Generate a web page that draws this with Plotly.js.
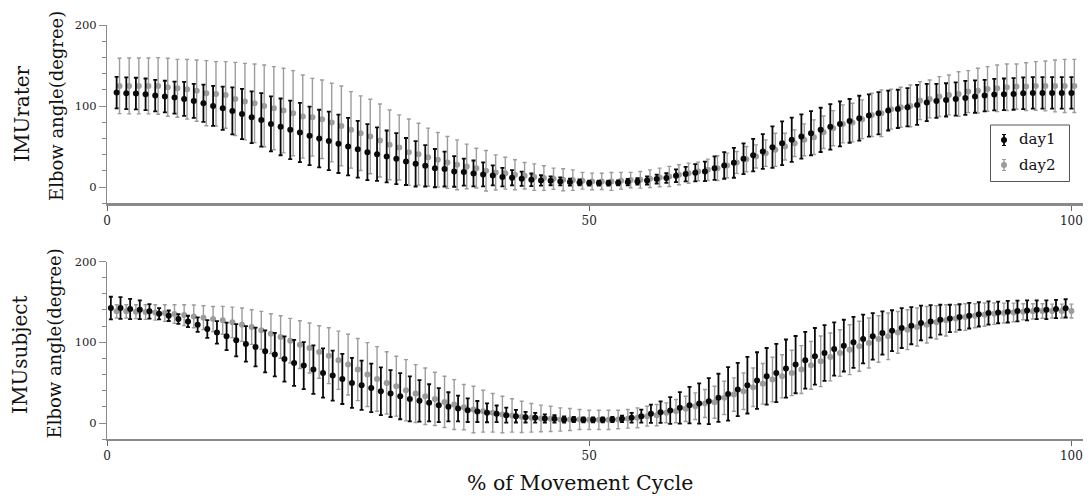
<!DOCTYPE html>
<html>
<head>
<meta charset="utf-8">
<script src="https://cdn.plot.ly/plotly-3.0.1.min.js"></script>
<style>
  html, body { margin: 0; padding: 0; background: #fff; }
  #chart { width: 1089px; height: 498px; }
</style>
</head>
<body>
<div id="chart"></div>
<script>
// Percent of the movement cycle (1..100)
const cycle = Array.from({length: 100}, (_, k) => k + 1);

// IMU rater: mean elbow angle and SD per cycle point
const raterDay1Mean = [
  116.6,115.8,115.4,114.5,112.9,111.7,110.4,108.8,106.3,103.4,
  100.2,97.3,94.0,90.3,86.2,82.9,78.0,74.3,70.6,67.3,
  63.2,59.9,57.0,53.4,50.0,46.8,43.1,40.6,37.8,35.1,
  31.6,28.7,26.3,23.4,22.2,19.3,18.5,16.8,15.6,14.4,
  12.3,11.5,10.3,9.0,8.2,7.8,7.0,6.2,5.7,4.9,
  4.9,4.9,5.3,6.2,7.0,8.2,9.9,11.1,14.0,16.0,
  17.7,19.3,23.4,26.7,30.0,34.9,39.4,43.9,49.3,54.2,
  58.3,62.4,66.5,70.6,74.3,78.0,81.7,85.0,88.3,91.1,
  94.4,96.5,98.5,101.4,104.3,106.3,107.6,108.8,110.0,111.7,
  112.9,114.1,114.5,114.9,115.8,116.2,116.2,116.2,116.2,116.2
];
const raterDay1Sd = [
  19.5,19.5,19.5,19.5,19.5,19.5,19.8,21.0,21.0,23.0,
  24.6,26.7,29.0,31.0,32.0,33.0,34.0,35.0,36.0,36.5,
  36.0,35.5,36.0,36.0,35.5,35.0,34.5,33.0,32.0,31.4,
  29.0,28.0,25.6,23.6,21.5,18.9,16.6,16.0,14.8,12.3,
  11.3,9.4,8.8,7.8,6.4,5.5,5.0,4.3,3.7,3.0,
  3.0,3.0,3.0,4.0,4.0,5.0,5.5,6.0,7.8,9.0,
  10.7,12.0,14.4,16.4,18.5,19.0,20.0,21.5,25.5,27.0,
  27.3,27.3,27.3,27.3,28.0,27.7,27.0,27.7,26.0,26.0,
  24.6,23.6,23.6,24.6,23.0,21.0,20.5,20.5,21.0,20.0,
  19.5,19.5,19.5,19.5,19.5,19.5,19.5,19.5,19.5,19.5
];
const raterDay2Mean = [
  124.8,124.8,124.8,124.8,124.8,123.2,121.9,120.7,119.0,115.8,
  115.0,113.7,108.8,105.5,103.4,100.2,97.3,94.4,91.1,87.0,
  86.2,83.7,79.6,75.5,70.6,66.5,62.4,57.5,52.1,48.9,
  43.1,40.6,36.9,33.7,30.4,27.5,25.5,23.4,20.1,18.1,
  17.2,15.2,14.0,12.3,11.1,10.3,9.0,8.6,7.8,7.0,
  7.0,7.0,7.8,8.6,9.0,10.3,11.9,13.1,15.2,17.2,
  19.3,21.3,23.4,26.7,30.4,34.5,37.8,41.9,46.0,50.0,
  54.2,58.3,61.6,67.7,72.7,78.0,79.6,83.7,89.1,91.1,
  96.1,98.5,100.2,106.7,108.8,111.7,113.7,114.9,117.8,119.0,
  121.1,121.9,123.2,124.0,124.0,124.8,124.8,124.8,124.8,124.8
];
const raterDay2Sd = [
  34.1,34.5,34.5,34.5,35.0,35.7,35.7,36.9,37.8,40.2,
  39.8,41.1,45.1,47.2,48.5,50.5,51.3,52.2,52.6,51.3,
  48.0,48.5,48.5,49.3,47.2,46.0,46.0,45.0,43.0,40.2,
  41.0,38.2,35.8,33.6,32.0,30.8,27.5,24.6,25.0,21.7,
  19.7,18.5,16.4,16.4,15.2,13.1,13.6,12.7,10.3,10.2,
  10.0,11.0,10.3,9.5,10.3,11.0,11.5,12.4,12.3,12.4,
  11.5,13.2,15.2,15.2,13.5,15.5,14.3,16.4,20.5,16.5,
  16.4,19.7,21.3,20.1,21.7,23.4,23.8,23.9,26.7,28.8,
  24.6,24.7,25.8,23.4,23.4,24.6,24.6,27.5,25.9,27.6,
  27.6,28.8,28.7,27.9,29.5,30.0,30.8,32.0,32.8,32.8
];

// IMU subject: mean elbow angle and SD per cycle point
const subjectDay1Mean = [
  142.4,142.4,141.2,140.3,138.3,135.4,132.9,128.8,125.9,121.8,
  116.5,112.3,107.4,102.5,98.0,94.2,88.9,84.8,79.4,74.5,
  71.2,66.3,62.1,58.8,54.7,49.8,46.9,43.6,39.5,36.6,
  33.3,30.0,27.6,25.1,22.2,20.2,18.1,16.0,14.4,12.8,
  11.5,9.9,8.6,7.4,6.6,5.8,5.3,4.5,4.5,4.1,
  4.1,4.1,4.5,5.3,6.6,8.6,11.5,13.6,15.6,18.9,
  22.2,24.3,27.2,31.3,36.2,41.6,46.9,52.7,58.0,62.1,
  67.5,72.4,77.8,82.7,86.8,91.8,95.9,100.0,104.1,107.4,
  111.5,114.4,117.7,120.6,123.9,125.9,128.0,129.6,131.3,132.9,
  134.6,136.2,137.0,137.9,138.7,139.5,140.3,140.3,141.2,142.0
];
const subjectDay1Sd = [
  14.0,13.5,12.5,11.5,9.0,7.0,6.5,6.0,7.0,9.0,
  11.0,14.0,17.0,20.0,22.0,24.0,26.0,27.0,28.0,28.5,
  29.0,30.0,30.5,31.0,31.0,31.0,30.5,30.0,29.5,29.0,
  28.5,27.8,25.7,23.0,21.0,18.0,16.0,14.6,13.0,11.7,
  10.3,9.3,7.8,6.6,6.0,5.0,4.7,3.7,3.3,3.0,
  3.0,3.0,3.3,4.0,6.0,8.0,11.3,13.4,16.5,19.5,
  22.6,25.0,28.4,29.8,33.0,33.0,35.0,35.0,35.0,36.0,
  36.0,35.4,35.0,35.0,34.4,33.0,32.0,31.5,30.2,28.8,
  26.7,25.3,24.7,23.0,21.6,20.2,18.5,16.9,15.8,15.8,
  15.0,14.4,13.4,13.4,12.8,12.3,11.7,11.7,11.3,11.3
];
const subjectDay2Mean = [
  138.3,138.3,137.9,137.4,137.0,136.2,135.0,133.7,132.1,130.5,
  128.8,127.2,124.7,121.8,118.9,114.8,110.7,106.6,102.0,97.1,
  93.0,88.0,83.5,77.8,72.4,66.3,60.1,54.7,49.8,45.7,
  40.7,36.6,33.3,30.0,26.3,23.0,19.8,16.9,14.8,12.8,
  10.7,9.5,7.8,6.6,5.8,5.3,4.5,4.5,4.5,4.1,
  4.1,4.1,4.5,5.3,6.6,8.6,9.9,12.8,14.8,17.7,
  21.0,24.3,25.9,31.3,35.4,39.5,44.4,48.6,53.9,58.0,
  62.1,66.3,71.6,76.5,81.9,86.8,90.9,95.1,99.2,104.1,
  107.4,112.3,115.6,118.9,121.8,124.7,127.2,129.6,131.3,132.9,
  134.2,135.4,136.2,137.0,137.9,138.3,138.7,138.7,138.7,138.7
];
const subjectDay2Sd = [
  8.2,8.2,8.6,9.0,9.5,10.3,11.5,12.8,14.0,14.8,
  15.6,17.3,18.9,20.6,21.4,23.5,24.7,26.3,27.6,29.5,
  30.9,32.5,34.6,36.0,37.5,38.5,39.5,40.0,38.5,37.0,
  37.9,35.8,35.0,32.9,31.7,30.9,28.0,28.8,25.9,23.9,
  22.6,20.6,19.3,17.7,16.5,15.6,14.4,13.6,12.3,11.9,
  11.9,11.9,11.5,11.5,12.3,12.3,13.2,12.3,14.4,15.6,
  16.5,17.3,19.8,20.6,20.6,22.6,23.9,25.1,27.6,26.7,
  28.0,29.6,29.6,31.3,29.6,28.8,30.9,30.9,30.9,28.8,
  28.8,25.9,24.7,23.5,22.6,20.6,19.3,16.9,16.5,14.8,
  14.4,13.2,12.3,11.5,9.9,9.5,9.0,8.6,8.6,8.6
];

const xTicks = [0, 50, 100];
const yTicks = [0, 100, 200];

const W = 1089, H = 498;
const px = v => v / W;          // pixel -> paper x
const py = v => 1 - v / H;      // pixel -> paper y

const SERIF = 'DejaVu Serif, Liberation Serif, serif';
const BLACK = '#0a0a0a';
const GRAY = '#9c9c9c';
const AXIS = '#8a8a8a';

function shifted(xs, d) { return xs.map(v => v + d); }

function series(x, y, sd, color, barWidth, xa, ya) {
  return {
    type: 'scatter', mode: 'markers',
    x: x, y: y, xaxis: xa, yaxis: ya,
    marker: {color: color, size: 6},
    error_y: {type: 'data', array: sd, visible: true, color: color,
              thickness: barWidth, width: 2},
    hoverinfo: 'skip', showlegend: false
  };
}

const traces = [
  series(shifted(cycle, 0.3), raterDay2Mean, raterDay2Sd, GRAY, 1.4, 'x', 'y'),
  series(cycle, raterDay1Mean, raterDay1Sd, BLACK, 1.8, 'x', 'y'),
  series(cycle, subjectDay2Mean, subjectDay2Sd, GRAY, 1.4, 'x2', 'y2'),
  series(shifted(cycle, -0.6), subjectDay1Mean, subjectDay1Sd, BLACK, 1.8, 'x2', 'y2')
];

function xAxis(anchor, lineW) {
  return {
    anchor: anchor, domain: [px(107), px(1083)], range: [0, 101.2],
    tickvals: xTicks, ticks: 'outside', ticklen: 5, tickwidth: 1, tickcolor: '#666',
    showline: true, linecolor: AXIS, linewidth: lineW,
    showgrid: false, zeroline: false,
    tickfont: {family: SERIF, size: 12, color: '#222'}
  };
}
function yAxis(anchor, top, bottom) {
  return {
    anchor: anchor, domain: [py(bottom), py(top)], range: [-20, 200],
    tickmode: 'array', tickvals: yTicks, ticks: 'outside', ticklen: 7, tickwidth: 1, tickcolor: AXIS,
    minor: {tickmode: 'linear', tick0: 0, dtick: 20, ticks: 'outside', ticklen: 4, tickcolor: AXIS, showgrid: false},
    showline: true, linecolor: AXIS, linewidth: 1,
    showgrid: false, zeroline: false,
    tickfont: {family: SERIF, size: 11.5, color: '#222'}
  };
}

function label(text, x, y, size, angle) {
  return {
    xref: 'paper', yref: 'paper', x: px(x), y: py(y),
    xanchor: 'center', yanchor: 'middle', showarrow: false,
    text: text, textangle: angle || 0,
    font: {family: SERIF, size: size, color: '#111'}
  };
}

// Legend drawn as a boxed key in the upper panel
const keyX = 1004, key1Y = 140, key2Y = 165;
function keyBar(y, color, w) {
  return [
    {type: 'line', xref: 'paper', yref: 'paper', x0: px(keyX), x1: px(keyX), y0: py(y - 5.5), y1: py(y + 5.5), line: {color: color, width: w}},
    {type: 'line', xref: 'paper', yref: 'paper', x0: px(keyX - 2), x1: px(keyX + 2), y0: py(y - 5.5), y1: py(y - 5.5), line: {color: color, width: 1}},
    {type: 'line', xref: 'paper', yref: 'paper', x0: px(keyX - 2), x1: px(keyX + 2), y0: py(y + 5.5), y1: py(y + 5.5), line: {color: color, width: 1}},
    {type: 'circle', xref: 'paper', yref: 'paper', xsizemode: 'pixel', ysizemode: 'pixel',
     xanchor: px(keyX), yanchor: py(y), x0: -3, x1: 3, y0: -3, y1: 3,
     fillcolor: color, line: {color: color, width: 0}}
  ];
}

const layout = {
  width: W, height: H,
  margin: {l: 0, r: 0, t: 0, b: 0},
  paper_bgcolor: '#fff', plot_bgcolor: '#fff',
  showlegend: false,
  font: {family: SERIF, color: '#111'},
  xaxis: xAxis('y', 2.5),
  yaxis: yAxis('x', 25, 203.3),
  xaxis2: xAxis('y2', 1.5),
  yaxis2: yAxis('x2', 261.5, 439.3),
  shapes: [
    {type: 'rect', xref: 'paper', yref: 'paper', x0: px(990.5), x1: px(1069.5), y0: py(181.5), y1: py(125),
     line: {color: '#555', width: 1}, fillcolor: 'rgba(255,255,255,0.9)'}
  ].concat(keyBar(key1Y, BLACK, 1.8), keyBar(key2Y, GRAY, 1.4)),
  annotations: [
    label('IMUrater', 22, 114, 20, -90),
    label('Elbow angle(degree)', 57, 106, 18, -90),
    label('IMUsubject', 20, 355, 20, -90),
    label('Elbow angle(degree)', 53.5, 344, 18, -90),
    label('% of Movement Cycle', 580, 483, 20.5, 0),
    {xref: 'paper', yref: 'paper', x: px(1017), y: py(139.5), xanchor: 'left', yanchor: 'middle',
     showarrow: false, text: 'day1', font: {family: SERIF, size: 15, color: '#111'}},
    {xref: 'paper', yref: 'paper', x: px(1017), y: py(164.5), xanchor: 'left', yanchor: 'middle',
     showarrow: false, text: 'day2', font: {family: SERIF, size: 15, color: '#111'}}
  ]
};

Plotly.newPlot('chart', traces, layout, {displayModeBar: false, staticPlot: true});
</script>
</body>
</html>
